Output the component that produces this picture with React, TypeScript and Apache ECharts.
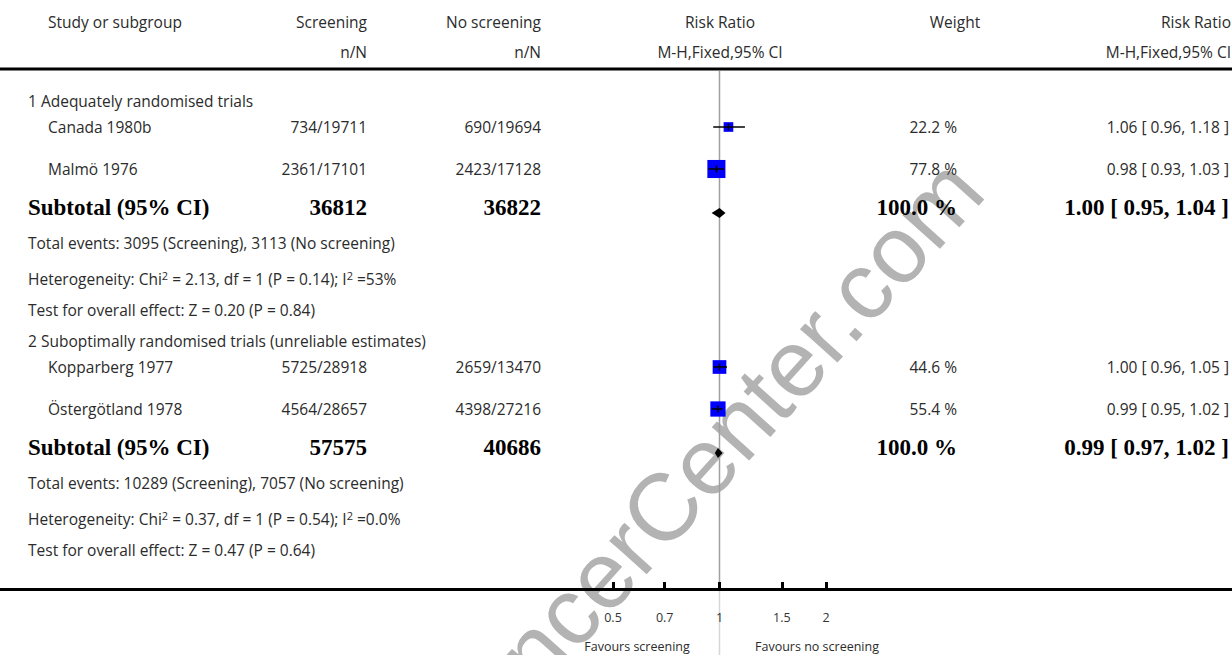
import React, { useEffect, useRef } from "react";
import * as echarts from "echarts";

// ---------- data ----------
const groups = [
  "1 Adequately randomised trials",
  "2 Suboptimally randomised trials (unreliable estimates)",
];
const studies = ["Canada 1980b", "Malmö 1976", "Kopparberg 1977", "Östergötland 1978"];
const studyGroup = [0, 0, 1, 1];
const screeningNN = ["734/19711", "2361/17101", "5725/28918", "4564/28657"];
const noScreeningNN = ["690/19694", "2423/17128", "2659/13470", "4398/27216"];
const rr = [1.06, 0.98, 1.0, 0.99];
const rrLow = [0.96, 0.93, 0.96, 0.95];
const rrHigh = [1.18, 1.03, 1.05, 1.02];
const weights = [22.2, 77.8, 44.6, 55.4];

const subtotalScreening = [36812, 57575];
const subtotalNoScreening = [36822, 40686];
const subtotalWeight = ["100.0 %", "100.0 %"];
const subtotalRR = [1.0, 0.99];
const subtotalLow = [0.95, 0.97];
const subtotalHigh = [1.04, 1.02];
const eventsScreening = [3095, 10289];
const eventsNoScreening = [3113, 7057];
const chi2 = ["2.13", "0.37"];
const hetP = ["0.14", "0.54"];
const i2 = ["53%", "0.0%"];
const zVal = ["0.20", "0.47"];
const zP = ["0.84", "0.64"];

const tickValues = [0.5, 0.7, 1, 1.5, 2];

// ---------- layout ----------
const W = 1232;
const H = 655;
const AXIS_Y = 589;
const GROUP_Y0 = [101, 341];
const OFF = { study: [26, 68], subtotal: 106, diamond: 112, events: 142, het: 178, test: 209 };
const COL = { group: 28, study: 48, screen: 367, noScreen: 541, rr: 720, weight: 957, weightHead: 955, ci: 1229, ciHead: 1231 };
// x scale: 0.5 -> 613px, 2 -> 826px over full width
const PX_PER_DECADE = 213 / Math.log10(4);
const X_MIN = Math.log10(0.5) - 613 / PX_PER_DECADE;
const X_MAX = X_MIN + W / PX_PER_DECADE;

const FONT = "'Open Sans', Lato, sans-serif";
const SERIF = "'Liberation Serif', 'DejaVu Serif', serif";
const TXT = "#2b2b2b";
const FS = 15.5;

function fmt(v: number) {
  return v.toFixed(2);
}

export default function App() {
  const ref = useRef<HTMLDivElement>(null);
  useEffect(() => {
    if (!ref.current) return;
    const chart = echarts.init(ref.current, undefined, { renderer: "svg" });

    const studyRowY = (i: number) => {
      const g = studyGroup[i];
      const idx = studyGroup.slice(0, i).filter((x) => x === g).length;
      return GROUP_Y0[g] + OFF.study[idx];
    };

    const texts: any[] = [];
    const t = (text: string, x: number, y: number, align: string, extra: any = {}) =>
      texts.push({
        type: "text",
        x,
        y,
        z: 100,
        silent: true,
        style: {
          text,
          fill: TXT,
          fontFamily: FONT,
          fontSize: FS,
          align,
          verticalAlign: "middle",
          ...extra,
        },
      });
    const bold = { fontFamily: SERIF, fontWeight: "bold", fontSize: 23, fill: "#000" };

    // header
    t("Study or subgroup", COL.study, 22, "left");
    t("Screening", COL.screen, 22, "right");
    t("n/N", COL.screen, 52, "right");
    t("No screening", COL.noScreen, 22, "right");
    t("n/N", COL.noScreen, 52, "right");
    t("Risk Ratio", COL.rr, 22, "center");
    t("M-H,Fixed,95% CI", COL.rr, 52, "center");
    t("Weight", COL.weightHead, 22, "center");
    t("Risk Ratio", COL.ciHead, 22, "right");
    t("M-H,Fixed,95% CI", COL.ciHead, 52, "right");

    groups.forEach((gName, g) => {
      const y0 = GROUP_Y0[g];
      t(gName, COL.group, y0, "left");
      studies.forEach((s, i) => {
        if (studyGroup[i] !== g) return;
        const y = studyRowY(i);
        t(s, COL.study, y, "left");
        t(screeningNN[i], COL.screen, y, "right");
        t(noScreeningNN[i], COL.noScreen, y, "right");
        t(weights[i].toFixed(1) + " %", COL.weight, y, "right");
        t(`${fmt(rr[i])} [ ${fmt(rrLow[i])}, ${fmt(rrHigh[i])} ]`, COL.ci, y, "right");
      });
      const ys = y0 + OFF.subtotal;
      t("Subtotal (95% CI)", COL.group, ys, "left", bold);
      t(String(subtotalScreening[g]), COL.screen, ys, "right", bold);
      t(String(subtotalNoScreening[g]), COL.noScreen, ys, "right", bold);
      t(subtotalWeight[g], COL.weight, ys, "right", bold);
      t(`${fmt(subtotalRR[g])} [ ${fmt(subtotalLow[g])}, ${fmt(subtotalHigh[g])} ]`, COL.ci, ys, "right", bold);
      t(
        `Total events: ${eventsScreening[g]} (Screening), ${eventsNoScreening[g]} (No screening)`,
        COL.group,
        y0 + OFF.events,
        "left"
      );
      t(
        `Heterogeneity: Chi{sup|2} = ${chi2[g]}, df = 1 (P = ${hetP[g]}); I{sup|2} =${i2[g]}`,
        COL.group,
        y0 + OFF.het,
        "left",
        {
          lineHeight: 18,
          rich: {
            sup: { fontSize: 11, fontFamily: FONT, fill: TXT, verticalAlign: "top", lineHeight: 11 },
          },
        }
      );
      t(`Test for overall effect: Z = ${zVal[g]} (P = ${zP[g]})`, COL.group, y0 + OFF.test, "left");
    });

    t("Favours screening", 637, 646, "center", { fontSize: 12.5 });
    t("Favours no screening", 817, 646, "center", { fontSize: 12.5 });

    const studyData = studies.map((_, i) => [
      Math.log10(rr[i]),
      studyRowY(i),
      Math.log10(rrLow[i]),
      Math.log10(rrHigh[i]),
      weights[i],
    ]);
    const diamondData = groups.map((_, g) => [
      Math.log10(subtotalRR[g]),
      GROUP_Y0[g] + OFF.diamond,
      Math.log10(subtotalLow[g]),
      Math.log10(subtotalHigh[g]),
    ]);

    const ticksLog = tickValues.map((v) => Math.log10(v));

    chart.setOption({
      animation: false,
      grid: { left: 0, right: 0, top: 0, bottom: H - AXIS_Y, containLabel: false },
      xAxis: {
        type: "value",
        min: X_MIN,
        max: X_MAX,
        position: "bottom",
        splitLine: { show: false },
        axisLine: { show: true, onZero: false, lineStyle: { color: "#000", width: 3 } },
        axisTick: {
          show: true,
          inside: true,
          length: 7,
          customValues: ticksLog,
          lineStyle: { color: "#000", width: 3 },
        },
        axisLabel: {
          show: true,
          customValues: ticksLog,
          margin: 22,
          fontSize: 12.5,
          fontFamily: FONT,
          color: "#333",
          formatter: (v: number) => String(Math.round(Math.pow(10, v) * 10) / 10),
        },
        z: 5,
      },
      yAxis: { type: "value", min: 0, max: AXIS_Y, inverse: true, show: false },
      graphic: [
        {
          type: "text",
          x: 699,
          y: 467,
          rotation: (48 * Math.PI) / 180,
          z: 0,
          silent: true,
          style: {
            text: "CancerCenter.com",
            fill: "#b3b3b3",
            fontFamily: "'Liberation Sans', Arial, sans-serif",
            fontSize: 95,
            align: "center",
            verticalAlign: "middle",
          },
        },
        {
          type: "rect",
          shape: { x: 0, y: 67.5, width: W, height: 3 },
          style: { fill: "#000" },
          z: 50,
          silent: true,
        },
        ...texts,
      ],
      series: [
        {
          type: "line",
          data: [
            [0, 71],
            [0, AXIS_Y],
          ],
          symbol: "none",
          clip: false,
          lineStyle: { color: "#a0a0a0", width: 1.5 },
          silent: true,
          z: 2,
        },
        {
          type: "line",
          data: [
            [0, AXIS_Y],
            [0, H],
          ],
          symbol: "none",
          clip: false,
          lineStyle: { color: "#d6d6d6", width: 1.5 },
          silent: true,
          z: 2,
        },
        {
          type: "custom",
          data: studyData,
          clip: false,
          z: 3,
          renderItem: (params: any, api: any) => {
            const c = api.coord([api.value(0), api.value(1)]);
            const l = api.coord([api.value(2), api.value(1)]);
            const h = api.coord([api.value(3), api.value(1)]);
            const s = 2.05 * Math.sqrt(api.value(4));
            return {
              type: "group",
              children: [
                { type: "rect", shape: { x: c[0] - s / 2, y: c[1] - s / 2, width: s, height: s }, style: { fill: "#0000ff" } },
                { type: "line", shape: { x1: l[0], y1: c[1], x2: h[0], y2: c[1] }, style: { stroke: "#000", lineWidth: 1.5 } },
                { type: "line", shape: { x1: c[0], y1: c[1] - 3.5, x2: c[0], y2: c[1] + 3.5 }, style: { stroke: "#000", lineWidth: 1.5 } },
              ],
            };
          },
        },
        {
          type: "custom",
          data: diamondData,
          clip: false,
          z: 3,
          renderItem: (params: any, api: any) => {
            const c = api.coord([api.value(0), api.value(1)]);
            const l = api.coord([api.value(2), api.value(1)]);
            const h = api.coord([api.value(3), api.value(1)]);
            return {
              type: "polygon",
              shape: { points: [[l[0], c[1]], [c[0], c[1] - 5], [h[0], c[1]], [c[0], c[1] + 5]] },
              style: { fill: "#000" },
            };
          },
        },
      ],
    });
    return () => chart.dispose();
  }, []);
  return <div ref={ref} style={{ position: "fixed", left: 0, top: 0, width: W, height: H, background: "#fff" }} />;
}
